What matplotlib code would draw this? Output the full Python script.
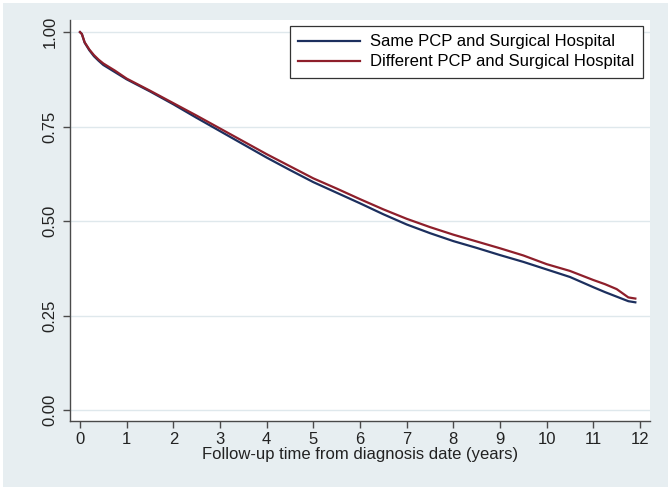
import matplotlib
matplotlib.use("Agg")
import matplotlib.pyplot as plt
from matplotlib.patches import Rectangle

# Kaplan-Meier estimates
years = [0, 0.04, 0.1, 0.2, 0.3, 0.4, 0.5, 0.75, 1, 1.5, 2, 2.5, 3, 3.5, 4, 4.5,
         5, 5.5, 6, 6.5, 7, 7.5, 8, 8.5, 9, 9.5, 10, 10.5, 11, 11.25, 11.5, 11.75, 11.9]
same_surv = [1.00, 0.995, 0.972, 0.952, 0.936, 0.924, 0.913, 0.894, 0.875, 0.843,
             0.809, 0.773, 0.738, 0.703, 0.668, 0.635, 0.603, 0.575, 0.547, 0.518,
             0.491, 0.468, 0.447, 0.429, 0.410, 0.392, 0.372, 0.352, 0.325, 0.312,
             0.300, 0.288, 0.285]
diff_surv = [1.00, 0.995, 0.973, 0.954, 0.939, 0.927, 0.917, 0.898, 0.877, 0.845,
             0.812, 0.779, 0.745, 0.711, 0.677, 0.645, 0.613, 0.586, 0.558, 0.531,
             0.506, 0.484, 0.464, 0.446, 0.428, 0.409, 0.386, 0.368, 0.344, 0.333,
             0.320, 0.298, 0.295]
labels = ["Same PCP and Surgical Hospital", "Different PCP and Surgical Hospital"]
x_ticks = list(range(0, 13))
y_ticks = [0.0, 0.25, 0.5, 0.75, 1.0]

plt.rcParams['font.family'] = ['Liberation Sans', 'DejaVu Sans']

fig = plt.figure(figsize=(6.72, 4.93), dpi=100)
fig.patch.set_facecolor('white')
# Stata-style light background panel
bg = Rectangle((3 / 672, 6 / 493), 665 / 672, 484 / 493,
               transform=fig.transFigure, facecolor='#e7eef1',
               edgecolor='none', zorder=-10)
fig.add_artist(bg)

ax = fig.add_axes([70 / 672, 72 / 493, 580 / 672, 401 / 493])
ax.set_facecolor('white')

ax.plot(years, same_surv, color='#1c2f5e', lw=1.6, label=labels[0], zorder=3)
ax.plot(years, diff_surv, color='#8e1f2b', lw=1.6, label=labels[1], zorder=4)

ax.set_xlim(-0.214, 12.214)
ax.set_ylim(-0.029, 1.032)
ax.set_xticks(x_ticks)
ax.set_yticks(y_ticks)
ax.set_yticklabels([f"{v:.2f}" for v in y_ticks], rotation=90, va='center')
ax.tick_params(axis='both', direction='out', length=5, width=1, color='#4a4a4a',
               labelsize=12, labelcolor='#222222')
ax.tick_params(axis='y', pad=4)
ax.tick_params(axis='x', pad=3)

ax.grid(axis='y', color='#dfe8ec', lw=1)
ax.set_axisbelow(True)
for s in ['top', 'right']:
    ax.spines[s].set_visible(False)
for s in ['left', 'bottom']:
    ax.spines[s].set_color('#4a4a4a')
    ax.spines[s].set_linewidth(1)

ax.set_xlabel('Follow-up time from diagnosis date (years)', fontsize=12,
              color='#222222', labelpad=0)

leg = ax.legend(loc='upper right', bbox_to_anchor=(0.988, 0.985), borderaxespad=0,
                fontsize=12, handlelength=3.7, fancybox=False, framealpha=1,
                edgecolor='#333333', borderpad=0.5, labelspacing=0.3,
                handletextpad=0.65)
leg.get_frame().set_linewidth(0.9)

fig.savefig('out.png', dpi=100)
